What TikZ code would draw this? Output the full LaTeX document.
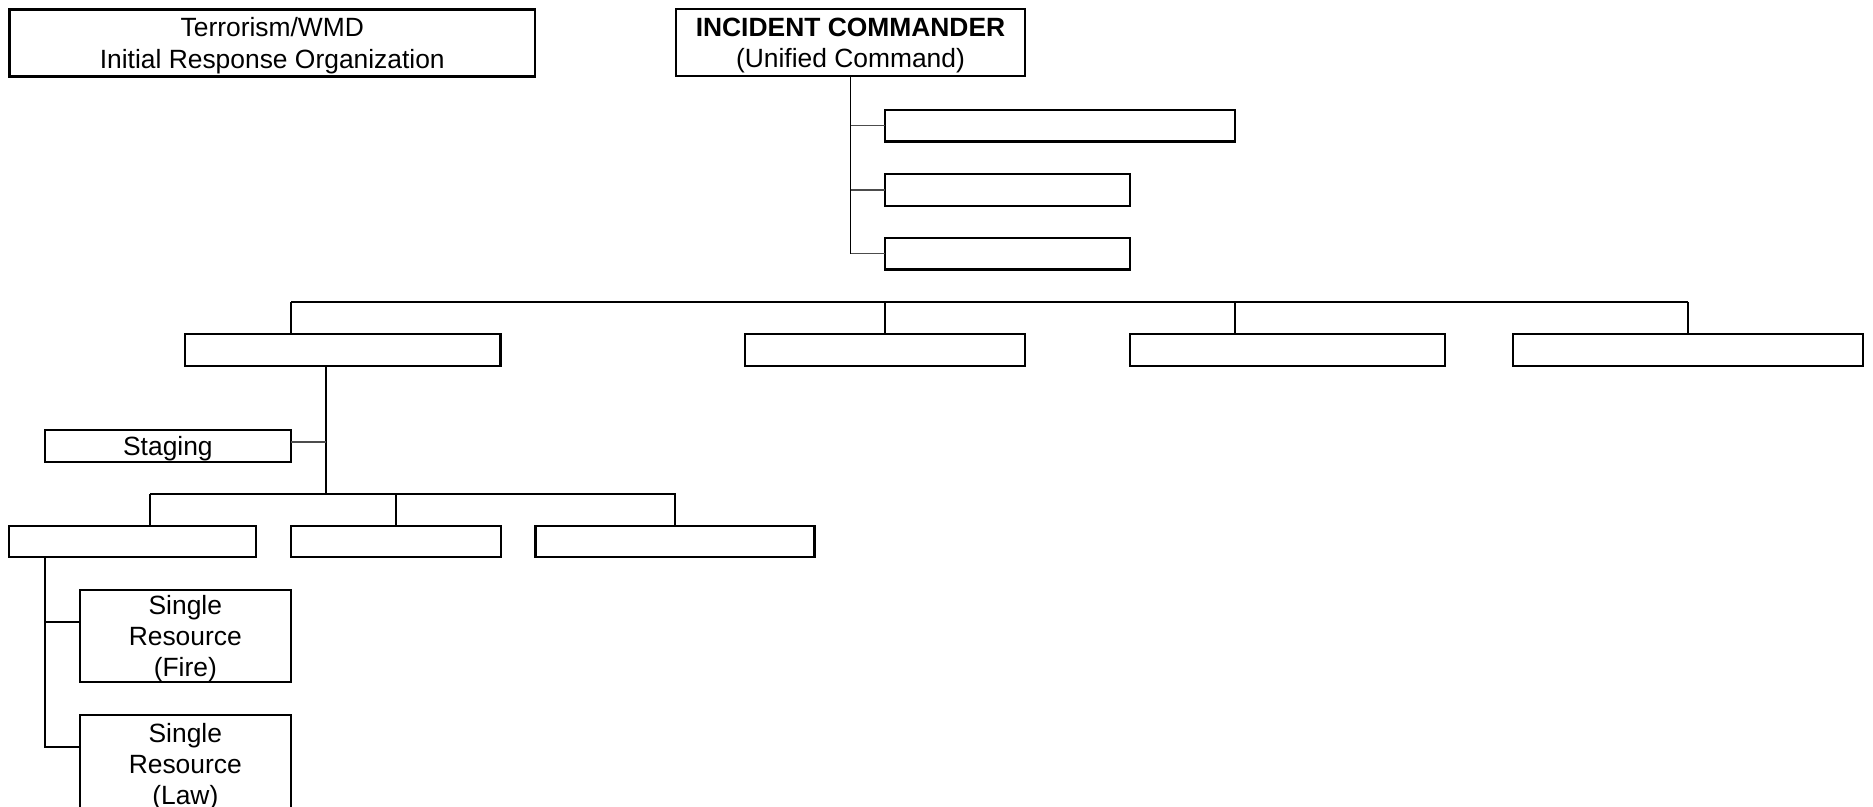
\documentclass[tikz,border=0pt]{standalone}
\usepackage{fontspec}
\setmainfont{Liberation Sans}
\usepackage{tikz}
\usetikzlibrary{calc}
\tikzset{
  orgbox/.style  ={rectangle, draw=black, fill=white, line width=1.05pt,
                   inner sep=0pt, outer sep=0pt, minimum height=15.7pt, text depth=0pt,
                   align=center, font=\fontsize{13.2}{15.6}\selectfont},
  orghead/.style ={orgbox, minimum height=33.5pt},
  orgtitle/.style={orgbox, line width=1.4pt, minimum height=33.7pt},
  orgres/.style  ={orgbox, minimum width=105.5pt, minimum height=46.2pt},
  orgline/.style ={draw=black, line width=0.95pt},
  orgthin/.style ={draw=black!70, line width=0.6pt},
}
\begin{document}
\begin{tikzpicture}[x=0.5pt, y=-0.5pt]
  \useasboundingbox (0,0) rectangle (1873,807);
  % title and command
  \node[orgtitle, minimum width=262.7pt] (term) at (272.3,43) {Terrorism/WMD\\Initial Response Organization};
  \node[orghead, minimum width=174.5pt] (ic) at (850.5,42.5) {\textbf{INCIDENT COMMANDER}\\(Unified Command)};
  % command staff
  \node[orgbox, minimum width=175pt]   (s1) at (1060,125.8)   {};
  \node[orgbox, minimum width=122.5pt] (s2) at (1007.5,190)   {};
  \node[orgbox, minimum width=122.5pt] (s3) at (1007.5,253.8) {};
  \draw[orgline] (ic.south) -- (ic.south |- s3.west);
  \foreach \n in {s1,s2,s3}{\draw[orgthin] (ic.south |- \n.west) -- (\n.west);}
  % sections
  \node[orgbox, minimum width=157.7pt] (secA) at (342.75,350) {};
  \node[orgbox, minimum width=140pt]   (secB) at (885,350)    {};
  \node[orgbox, minimum width=157.5pt] (secC) at (1287.5,350) {};
  \node[orgbox, minimum width=175pt]   (secD) at (1688,350)   {};
  \coordinate (barA) at (291,302);
  \coordinate (barC) at (1235,302);
  \draw[orgline] (barA) -- (secD.north |- barA);
  \draw[orgline] (barA) -- (barA |- secA.north);
  \draw[orgline] (secB.north |- barA) -- (secB.north);
  \draw[orgline] (barC) -- (barC |- secC.north);
  \draw[orgline] (secD.north |- barA) -- (secD.north);
  % staging and units
  \node[orgbox, minimum width=123.2pt, minimum height=15.85pt] (stg) at (167.9,445.9) {Staging};
  \node[orgbox, minimum width=123.2pt] (unE) at (132.5,541.7) {};
  \node[orgbox, minimum width=105pt]   (unF) at (396,541.7)   {};
  \node[orgbox, minimum width=139.5pt] (unG) at (675,541.7)   {};
  \coordinate (subM) at (326,494);
  \coordinate (subL) at (150,494);
  \draw[orgline] (subM |- secA.south) -- (subM);
  \draw[orgthin] ($(stg.east)+(0,1.95pt)$) -- ($(stg.east -| subM)+(0,1.95pt)$);
  \draw[orgline] (subL) -- (unG.north |- subL) -- (unG.north);
  \draw[orgline] (subL) -- (subL |- unE.north);
  \draw[orgline] (unF.north |- subL) -- (unF.north);
  % single resources
  \node[orgres] (fire) at (185.3,636.2) {Single\\Resource\\(Fire)};
  \node[orgres, minimum height=48.7pt] (law) at (185.3,764) {Single\\Resource\\(Law)};
  \coordinate (resX) at (45,0);
  \draw[orgline] (resX |- unE.south) -- (resX |- {$(law.west)+(0,8.65pt)$}) -- ($(law.west)+(0,8.65pt)$);
  \draw[orgline] (resX |- {$(fire.west)+(0,7.1pt)$}) -- ($(fire.west)+(0,7.1pt)$);
\end{tikzpicture}
\end{document}
